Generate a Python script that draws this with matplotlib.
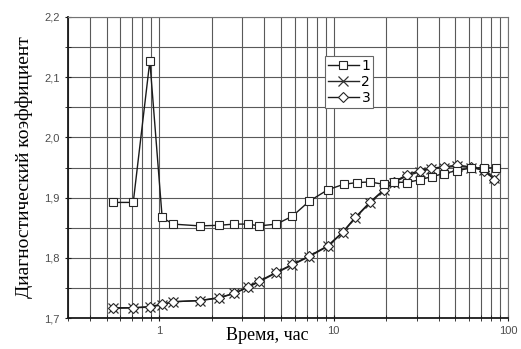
import numpy as np
import matplotlib.pyplot as plt
from matplotlib.ticker import LogLocator, MultipleLocator, FixedLocator, NullFormatter

# Кривая 1
t1 = [0.545, 0.71, 0.884, 1.04, 1.20, 1.71, 2.2, 2.7, 3.23, 3.75, 4.7, 5.8, 7.25, 9.26,
      11.4, 13.6, 16.2, 19.4, 22.1, 26.4, 31.5, 36.8, 43, 51.3, 61.2, 73, 85]
k1 = [1.892, 1.892, 2.127, 1.867, 1.856, 1.853, 1.854, 1.856, 1.856, 1.853, 1.856, 1.869,
      1.894, 1.913, 1.922, 1.925, 1.926, 1.922, 1.926, 1.925, 1.930, 1.935, 1.940, 1.945,
      1.949, 1.950, 1.949]

# Кривая 2
t2 = [0.545, 0.71, 0.884, 1.04, 1.20, 1.71, 2.2, 2.7, 3.23, 3.73, 4.7, 5.8, 7.25, 9.26,
      11.3, 13.3, 16.1, 19.4, 22.1, 26.4, 31.2, 36.4, 43, 51.3, 61.2, 73, 83.5]
k2 = [1.716, 1.717, 1.718, 1.722, 1.727, 1.729, 1.733, 1.741, 1.751, 1.760, 1.775, 1.788,
      1.802, 1.819, 1.842, 1.866, 1.891, 1.912, 1.925, 1.936, 1.943, 1.948, 1.950, 1.952,
      1.950, 1.946, 1.933]

# Кривая 3
t3 = [0.545, 0.71, 0.884, 1.04, 1.20, 1.71, 2.2, 2.7, 3.23, 3.73, 4.7, 5.8, 7.25, 9.26,
      11.3, 13.3, 16.1, 19.4, 22.1, 26.4, 31.2, 36.4, 43, 51.3, 61.2, 73, 83.5]
k3 = [1.717, 1.717, 1.719, 1.723, 1.727, 1.729, 1.734, 1.741, 1.752, 1.761, 1.776, 1.789,
      1.803, 1.820, 1.843, 1.867, 1.892, 1.913, 1.926, 1.938, 1.945, 1.949, 1.951, 1.954,
      1.951, 1.945, 1.930]

fig = plt.figure(figsize=(5.21, 3.49), dpi=100)
ax = fig.add_axes([0.1305, 0.0888, 0.8445, 0.8625])

ax.plot(t2, k2, color='0.15', lw=1.0, marker='x', ms=7, mew=0.9, mec='0.2', label='2', zorder=3)
ax.plot(t3, k3, color='0.1', lw=1.0, marker='D', ms=5.5, mfc='white', mec='0.15', mew=0.8,
        label='3', zorder=4)
ax.plot(t1, k1, color='0.1', lw=1.0, marker='s', ms=5.5, mfc='white', mec='0.15', mew=0.8,
        label='1', zorder=5)

ax.set_xscale('log')
ax.set_xlim(0.3, 100)
ax.set_ylim(1.7, 2.2)

ax.xaxis.set_major_locator(FixedLocator([1, 10, 100]))
ax.xaxis.set_minor_locator(LogLocator(base=10, subs=np.arange(2, 10)))
ax.xaxis.set_minor_formatter(NullFormatter())
ax.set_xticklabels(['1', '10', '100'])
ax.yaxis.set_major_locator(MultipleLocator(0.1))
ax.yaxis.set_minor_locator(MultipleLocator(0.05))
ax.set_yticks([1.7, 1.8, 1.9, 2.0, 2.1, 2.2])
ax.set_yticklabels(['1,7', '1,8', '1,9', '2,0', '2,1', '2,2'])

ax.grid(True, which='both', color='0.35', lw=0.8)
ax.set_axisbelow(True)
ax.tick_params(which='both', direction='inout', labelsize=8, labelcolor='0.3',
               colors='0.1', top=False, right=False)
ax.tick_params(which='major', length=5)
ax.tick_params(which='minor', length=4)
for lab in ax.get_xticklabels() + ax.get_yticklabels():
    lab.set_family('Liberation Sans')

for s in ['left', 'bottom']:
    ax.spines[s].set_linewidth(1.3)
    ax.spines[s].set_color('0.1')
for s in ['top', 'right']:
    ax.spines[s].set_color('0.45')
    ax.spines[s].set_linewidth(0.8)

# подпись оси X сдвинута влево, как на исходном рисунке
fig.text(267 / 521, 5 / 349, 'Время, час', family='Liberation Serif', fontsize=13,
         ha='center', va='bottom')
ax.set_ylabel('Диагностический коэффициент', family='Liberation Serif', fontsize=14, labelpad=8)

h, l = ax.get_legend_handles_labels()
order = [2, 0, 1]
leg = ax.legend([h[i] for i in order], [l[i] for i in order], loc='upper left',
                bbox_to_anchor=(0.585, 0.87), frameon=True, fancybox=False,
                framealpha=1, edgecolor='0.4', fontsize=10, handlelength=2.2,
                borderpad=0.2, labelspacing=0.15, handletextpad=0.2, borderaxespad=0)
leg.get_frame().set_linewidth(0.8)

fig.savefig('out.png', dpi=100)
